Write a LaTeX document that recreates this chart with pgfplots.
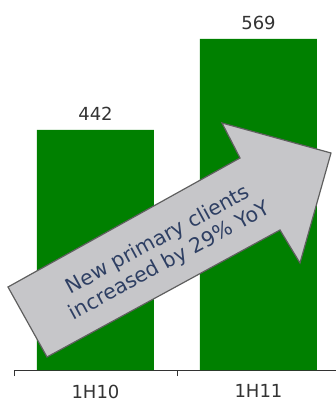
\documentclass[border=0pt]{standalone}
\usepackage{fontspec}
\setmainfont{DejaVu Sans}
\usepackage{pgfplots}
\pgfplotsset{compat=1.18}
\definecolor{bargreen}{HTML}{008000}
\definecolor{arrowfill}{HTML}{C6C6C9}
\definecolor{arrowedge}{HTML}{5F5F5F}
\definecolor{txtblue}{HTML}{2E3F63}
\definecolor{lbl}{HTML}{333333}
\begin{document}
\begin{tikzpicture}[x=1pt,y=1pt]
\path[use as bounding box] (0,0) rectangle (336,402);
\begin{axis}[
  at={(14pt,32pt)}, anchor=south west,
  scale only axis, width=321.9pt, height=370pt,
  xmin=-0.5, xmax=1.475, ymin=107, ymax=623.4,
  axis x line*=bottom, axis y line=none,
  xtick={0,1}, xticklabels={1H10,1H11},
  major x tick style={draw=none},
  minor xtick={-0.5,0.5},
  minor tick length=6pt,
  tick align=outside,
  x axis line style={draw=lbl, line width=0.8pt},
  minor x tick style={draw=lbl, line width=0.8pt},
  xticklabel style={font=\fontsize{18}{20}\selectfont, text=lbl, yshift=-7pt},
  /pgf/number format/assume math mode=true,
  ybar, bar width=117pt,
  nodes near coords,
  nodes near coords style={anchor=base, yshift=9pt, font=\fontsize{18}{20}\selectfont, text=lbl},
  clip=false,
]
\addplot[fill=bargreen, draw=none] coordinates {(0,442) (1,569)};
\end{axis}
\draw[fill=arrowfill, draw=arrowedge, line width=1.2pt, line join=miter]
  (8,115) -- (240,244) -- (222,279) -- (331,249) -- (300,139) -- (280,172) -- (47,45) -- cycle;
\node[rotate=28.5, text=txtblue, align=center, font=\fontsize{20.5}{24}\selectfont, inner sep=0pt]
  at (164,151) {New primary clients\\increased by 29\% YoY};
\end{tikzpicture}
\end{document}
